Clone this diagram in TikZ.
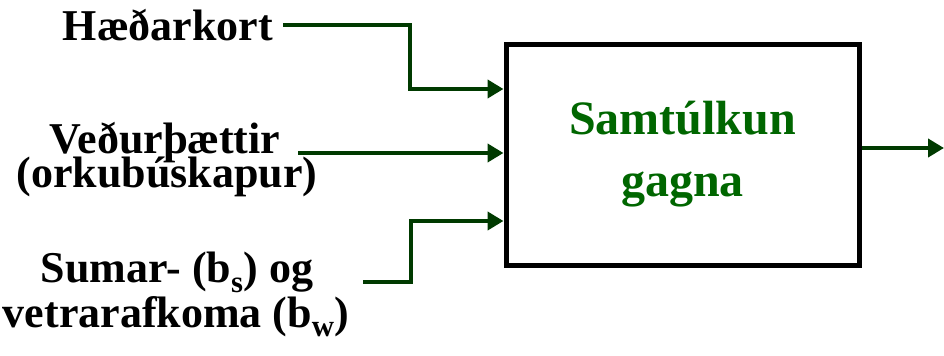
\documentclass[tikz,border=0pt]{standalone}
\usepackage{fontspec}
\setmainfont{Liberation Serif}[BoldFont={Liberation Serif Bold}]
\usetikzlibrary{arrows.meta}
\definecolor{flowgreen}{RGB}{0,58,0}
\definecolor{titlegreen}{RGB}{0,102,0}
\begin{document}
\begin{tikzpicture}[x=2pt,y=-2pt,
  lbl/.style={font=\bfseries\fontsize{88}{88}\selectfont, inner sep=0pt, anchor=base},
  flow/.style={draw=flowgreen, line width=9.2pt, -{Triangle[length=32pt,width=36pt]}},
  block/.style={draw=black, line width=10pt, minimum width=706pt, minimum height=442pt,
    align=center, text=titlegreen, font=\bfseries\fontsize{96}{124}\selectfont}]
\useasboundingbox (0,0) rectangle (944,356);

% processing block
\node[block] (box) at (682.5,154.5) {Samtúlkun\\gagna};

% input labels
\node[lbl] (hae)  at (168,40)  {Hæðarkort};
\node[lbl] (ved1) at (165,153) {Veðurþættir};
\node[lbl] (ved2) at (167,187) {(orkubúskapur)};
\node[lbl] (sum1) at (177,282) {Sumar- (b\textsubscript{s}) og};
\node[lbl] (sum2) at (176,327) {vetrarafkoma (b\textsubscript{w})};

% connector anchor points
\coordinate (a1s) at (283,25);
\coordinate (a1b) at (410,25);
\coordinate (a1e) at (500,89);
\coordinate (a2s) at (298,153);
\coordinate (a3s) at (363,282);
\coordinate (a3b) at (411,282);
\coordinate (a3e) at (500,221);
\coordinate (out) at (944,148);

% input connectors
\draw[flow] (a1s) -- (a1b) |- (box.west |- a1e);
\draw[flow] (a2s) -- (box.west |- a2s);
\draw[flow] (a3s) -- (a3b) |- (box.west |- a3e);

% output connector
\draw[flow] (box.east |- out) -- (out);
\end{tikzpicture}
\end{document}
